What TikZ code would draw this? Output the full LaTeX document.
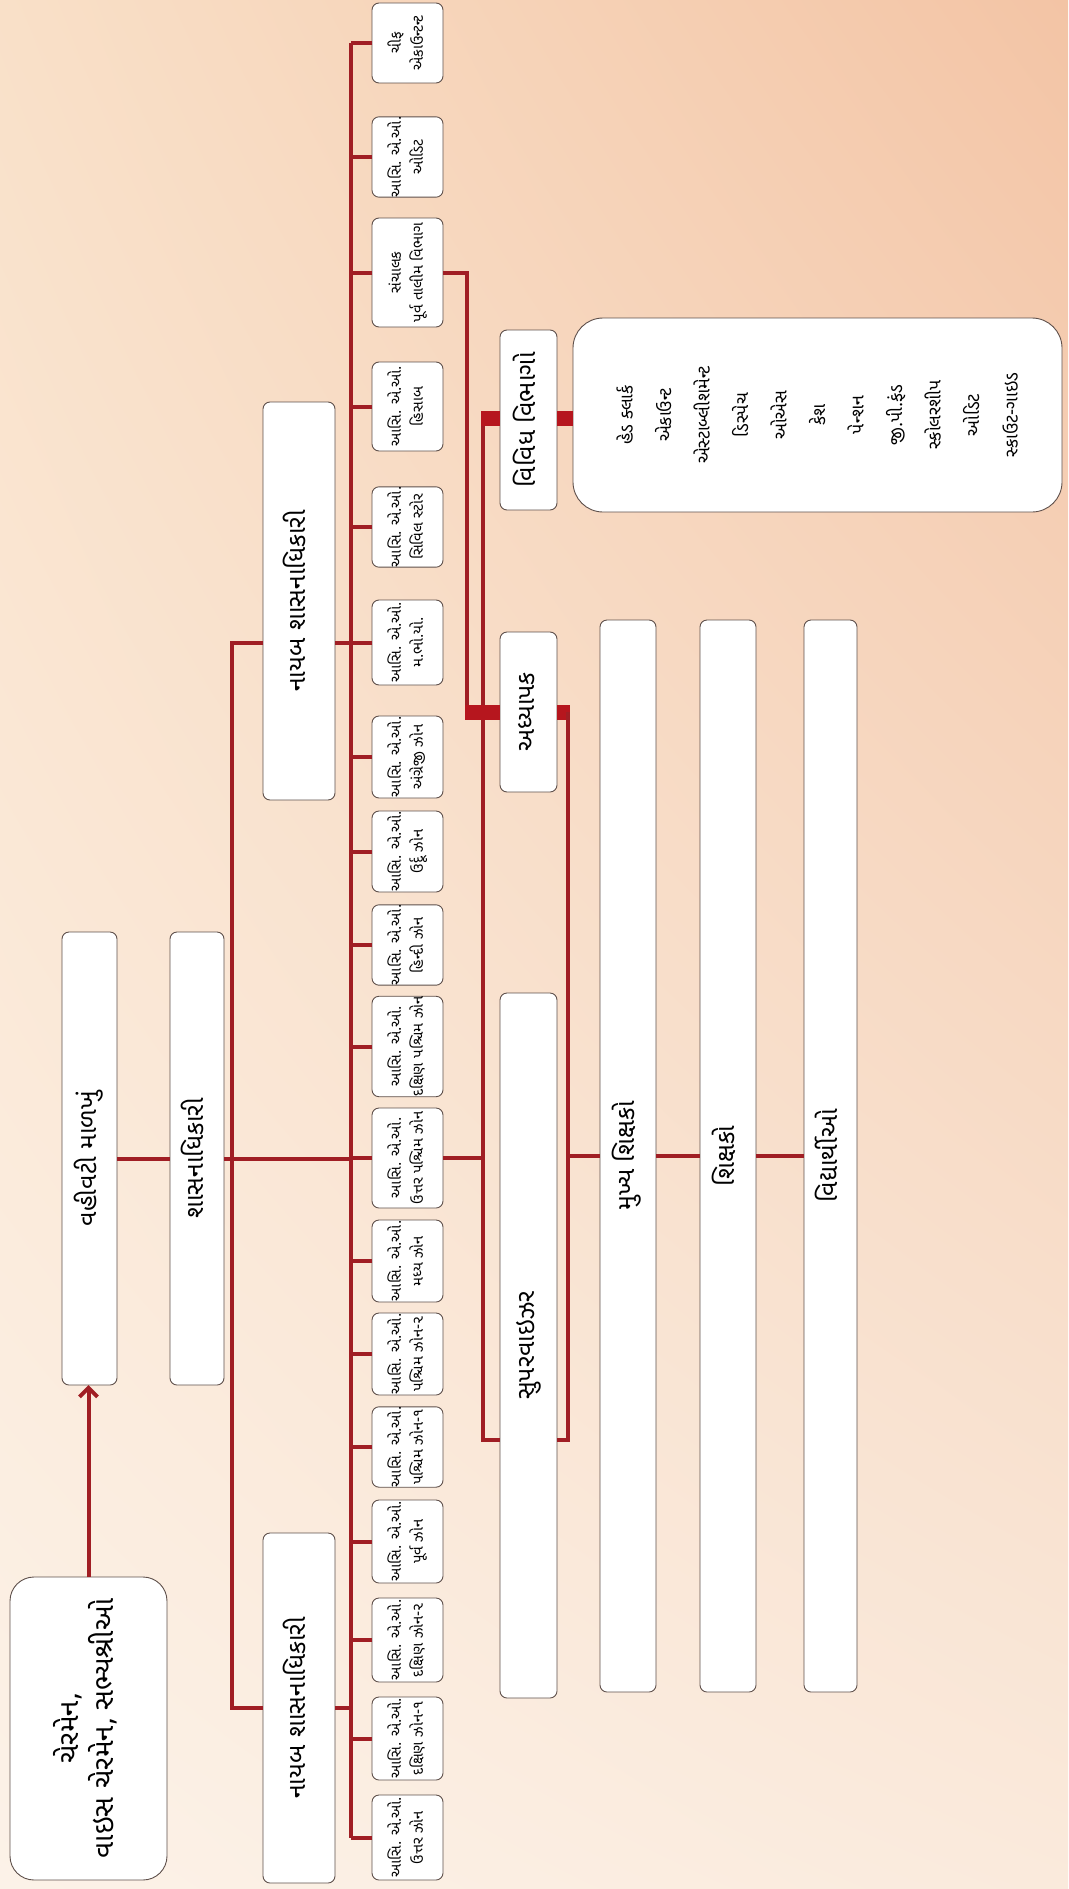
\documentclass[tikz,border=0pt]{standalone}
\usepackage{fontspec}
\usepackage{graphicx}
\newfontfamily\guj[Script=Gujarati]{Noto Sans Gujarati UI}
\usetikzlibrary{arrows.meta,shadings}
\definecolor{linered}{RGB}{160,30,36}
\definecolor{blockred}{RGB}{182,22,30}
\definecolor{boxgray}{RGB}{95,80,75}
\definecolor{bgUL}{RGB}{249,224,200}
\definecolor{bgUR}{RGB}{243,196,165}
\definecolor{bgLL}{RGB}{252,242,232}
\definecolor{bgLR}{RGB}{250,234,220}
\newcommand{\gbox}[7][]{%
  \node[frame,#1,minimum width={(#4-#2)*1pt},minimum height={(#5-#3)*1pt}] (#6) at ({(#2+#4)/2},{(#3+#5)/2}) {\rotatebox{90}{\begin{tabular}{@{}c@{}}#7\end{tabular}}};}
\begin{document}
\begin{tikzpicture}[x=1pt,y=-1pt,
  frame/.style={draw=boxgray,line width=0.9pt,fill=white,rounded corners=7pt,inner sep=0pt,outer sep=0pt},
  small/.style={font=\guj\fontsize{15}{22}\selectfont},
  big/.style={font=\guj\fontsize{25}{30}\selectfont},
  chairf/.style={font=\guj\fontsize{28}{34}\selectfont},
  listf/.style={font=\guj\fontsize{18}{38.5}\selectfont},
  conn/.style={draw=linered,line width=4pt},
  blk/.style={draw=blockred,line width=15pt}]
\shade[upper left=bgUL,upper right=bgUR,lower left=bgLL,lower right=bgLR] (0,0) rectangle (1068,1889);
\useasboundingbox (0,0) rectangle (1068,1889);

% main column
\gbox[chairf,rounded corners=24pt]{10}{1577}{167}{1880}{chair}{ચેરમેન,\\વાઇસ ચેરમેન, સભ્યશ્રીઓ}
\gbox[big]{62}{932}{117}{1385}{vm}{વહીવટી માળખું}
\gbox[big]{170}{932}{224}{1385}{shas}{શાસનાધિકારી}
\gbox[big]{263}{402}{335}{800}{upnay}{નાયબ શાસનાધિકારી}
\gbox[big]{263}{1533}{335}{1883}{lownay}{નાયબ શાસનાધિકારી}

% small boxes
\gbox[small]{372}{3}{443}{83}{sb1}{ચીફ\\એકાઉન્ટન્ટ}
\gbox[small]{372}{117}{443}{197}{sb2}{આસિ. એ.ઓ.\\ઓડિટ}
\gbox[small]{372}{218}{443}{327}{sb3}{સંચાલક\\પૂર્વ તાલીમ વિભાગ}
\gbox[small]{372}{362}{443}{451}{sb4}{આસિ. એ.ઓ.\\હિસાબ}
\gbox[small]{372}{487}{443}{567}{sb5}{આસિ. એ.ઓ.\\સિવિલ સ્ટોર}
\gbox[small]{372}{600}{443}{685}{sb6}{આસિ. એ.ઓ.\\મ.ભો.યો.}
\gbox[small]{372}{716}{443}{798}{sb7}{આસિ. એ.ઓ.\\અંગ્રેજી ઝોન}
\gbox[small]{372}{811}{443}{892}{sb8}{આસિ. એ.ઓ.\\ઉર્દૂ ઝોન}
\gbox[small]{372}{906}{443}{984}{sb9}{આસિ. એ.ઓ.\\હિન્દી ઝોન}
\gbox[small]{372}{998}{443}{1095}{sb10}{આસિ. એ.ઓ.\\દક્ષિણ પશ્ચિમ ઝોન}
\gbox[small]{372}{1108}{443}{1208}{sb11}{આસિ. એ.ઓ.\\ઉત્તર પશ્ચિમ ઝોન}
\gbox[small]{372}{1220}{443}{1302}{sb12}{આસિ. એ.ઓ.\\મધ્ય ઝોન}
\gbox[small]{372}{1313}{443}{1395}{sb13}{આસિ. એ.ઓ.\\પશ્ચિમ ઝોન-૨}
\gbox[small]{372}{1407}{443}{1487}{sb14}{આસિ. એ.ઓ.\\પશ્ચિમ ઝોન-૧}
\gbox[small]{372}{1500}{443}{1583}{sb15}{આસિ. એ.ઓ.\\પૂર્વ ઝોન}
\gbox[small]{372}{1598}{443}{1682}{sb16}{આસિ. એ.ઓ.\\દક્ષિણ ઝોન-૨}
\gbox[small]{372}{1697}{443}{1780}{sb17}{આસિ. એ.ઓ.\\દક્ષિણ ઝોન-૧}
\gbox[small]{372}{1795}{443}{1880}{sb18}{આસિ. એ.ઓ.\\ઉત્તર ઝોન}

% right part
\gbox[big]{500}{330}{557}{510}{vv}{વિવિધ વિભાગો}
\gbox[big]{500}{632}{557}{792}{adh}{અધ્યાપક}
\gbox[big]{500}{993}{557}{1698}{sup}{સુપરવાઇઝર}
\gbox[big]{600}{620}{656}{1692}{mukhya}{મુખ્ય શિક્ષકો}
\gbox[big]{700}{620}{756}{1692}{shik}{શિક્ષકો}
\gbox[big]{804}{620}{857}{1692}{vid}{વિદ્યાર્થીઓ}
\gbox[listf,rounded corners=30pt]{573}{318}{1062}{512}{dept}{હેડ ક્લાર્ક\\એકાઉન્ટ\\એસ્ટાબ્લીશમેન્ટ\\ડિસ્પેચ\\ઓએસ\\કેશ\\પેન્શન\\જી.પી.ફંડ\\સ્કોલરશીપ\\ઓડિટ\\સ્કાઉટ-ગાઇડ}

% helper coordinates
\coordinate (mvx) at (232,0);
\coordinate (cvx) at (351,0);
\coordinate (v1) at (467,0);
\coordinate (v2) at (483,0);
\coordinate (v3) at (568,0);
\coordinate (brk) at (0,1440);
\coordinate (ady) at (0,712);
\coordinate (vvy) at (0,418);
\coordinate (uny) at (0,643);
\coordinate (lny) at (0,1708);

% connectors
\draw[conn,-{Straight Barb[length=9pt,width=18pt]}] (chair.north) -- (chair.north |- vm.south);
\draw[conn] (vm.east) -- (shas.west);
\draw[conn] (shas.east) -- (shas.east -| cvx);
\draw[conn] (upnay.west |- uny) -- (uny -| mvx) -- (lny -| mvx) -- (lownay.west |- lny);
\draw[conn] (upnay.east |- uny) -- (uny -| cvx);
\draw[conn] (lownay.east |- lny) -- (lny -| cvx);
\draw[conn] (sb1 -| cvx) -- (sb18 -| cvx);
\foreach \i in {1,...,18} {\draw[conn] (sb\i.west) -- (sb\i.west -| cvx);}
\draw[conn] (sb11.east) -- (sb11.east -| v2);
\draw[conn] (sb3.east) -- (sb3.east -| v1) -- (ady -| v1);
\draw[conn] (vvy -| v2) -- (brk -| v2) -- (sup.west |- brk);
\draw[blk] ([xshift=-2pt]ady -| v1) -- (adh.west |- ady);
\draw[blk] ([xshift=-2pt]vvy -| v2) -- (vv.west |- vvy);
\draw[blk] (vv.east |- vvy) -- (dept.west |- vvy);
\draw[blk] (adh.east |- ady) -- ([xshift=2pt]ady -| v3);
\draw[conn] (ady -| v3) -- (brk -| v3) -- (sup.east |- brk);
\draw[conn] (mukhya.west -| v3) -- (mukhya.west);
\draw[conn] (mukhya.east) -- (shik.west);
\draw[conn] (shik.east) -- (vid.west);
\end{tikzpicture}
\end{document}
